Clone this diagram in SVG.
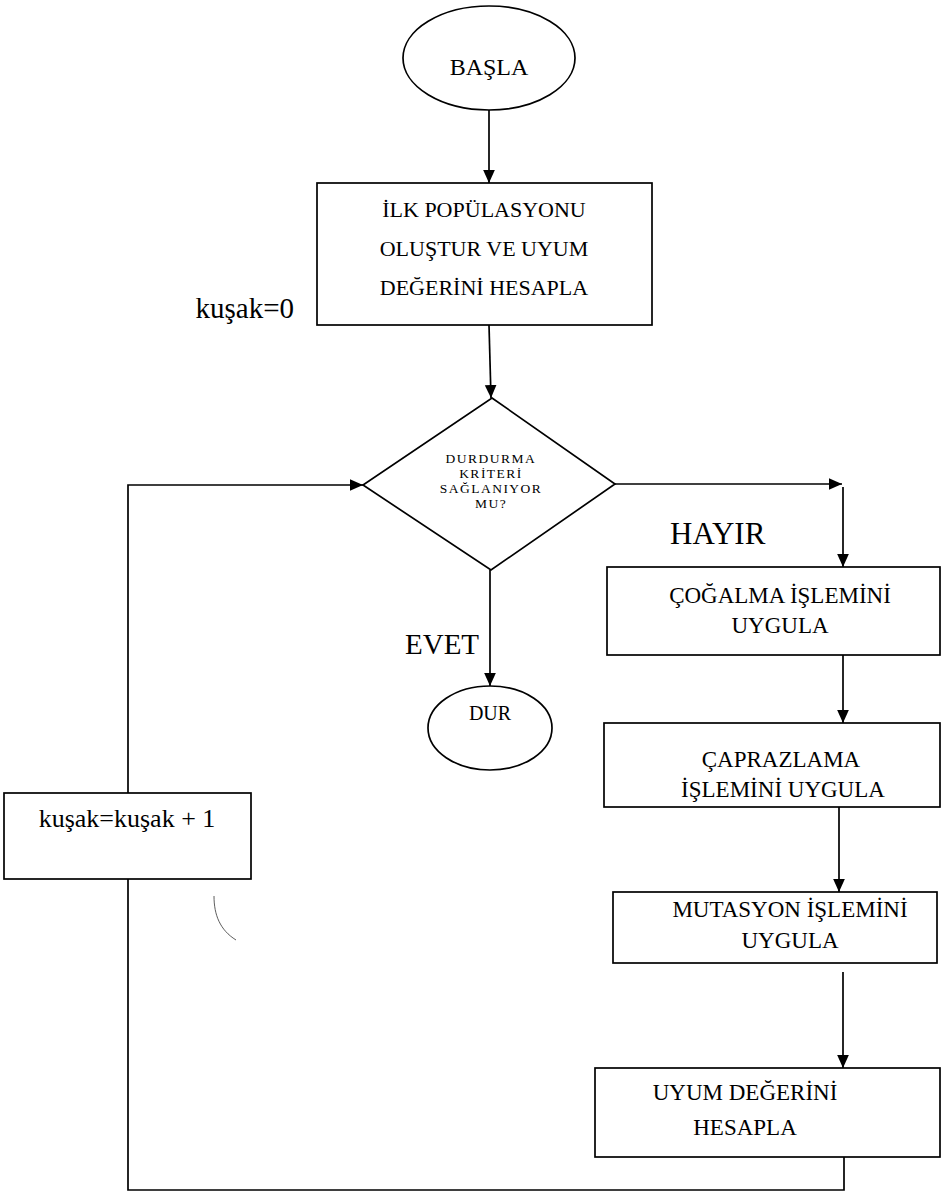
<svg xmlns="http://www.w3.org/2000/svg" width="944" height="1201" viewBox="0 0 944 1201">
<defs>
<marker id="ah" viewBox="0 0 10 10" refX="10" refY="5" markerWidth="13" markerHeight="13" markerUnits="userSpaceOnUse" orient="auto">
<path d="M0,0.5 L10,5 L0,9.5 z" fill="#000"/>
</marker>
<style>
.shape{fill:#fff;stroke:#000;stroke-width:1.7}
.conn{fill:none;stroke:#000;stroke-width:1.7}
.t{font-family:"Liberation Serif","Times New Roman",serif;fill:#000;text-anchor:middle}
.lbl{font-family:"Liberation Serif","Times New Roman",serif;fill:#000}
.d{font-size:13.5px;letter-spacing:1.5px}
.p{font-size:23px}
</style>
</defs>
<rect width="944" height="1201" fill="#fff"/>
<g id="connectors">
<line class="conn" x1="489" y1="110" x2="489" y2="183" marker-end="url(#ah)"/>
<line class="conn" x1="489" y1="325" x2="491" y2="398" marker-end="url(#ah)"/>
<line class="conn" x1="615" y1="484" x2="842" y2="484" marker-end="url(#ah)"/>
<line class="conn" x1="843" y1="487" x2="843" y2="567" marker-end="url(#ah)"/>
<line class="conn" x1="490" y1="570" x2="490" y2="686" marker-end="url(#ah)"/>
<line class="conn" x1="843" y1="655" x2="843" y2="723" marker-end="url(#ah)"/>
<line class="conn" x1="839" y1="807" x2="839" y2="892" marker-end="url(#ah)"/>
<line class="conn" x1="843" y1="972" x2="843" y2="1068" marker-end="url(#ah)"/>
<polyline class="conn" points="844,1157 844,1190 128,1190 128,485 363,485" marker-end="url(#ah)"/>
<path d="M214,896 C214,915 220,930 236,940" fill="none" stroke="#333" stroke-width="0.8"/>
</g>
<g id="start">
<ellipse class="shape" cx="489" cy="58" rx="86" ry="52"/>
<text class="t" x="489" y="75" font-size="24">BAŞLA</text>
</g>
<g id="init">
<rect class="shape" x="317" y="183" width="335" height="142"/>
<text class="t" x="484" y="217" font-size="22">İLK POPÜLASYONU</text>
<text class="t" x="484" y="256" font-size="22">OLUŞTUR VE UYUM</text>
<text class="t" x="484" y="295" font-size="22">DEĞERİNİ HESAPLA</text>
</g>
<text class="lbl" x="294" y="318" font-size="29" text-anchor="end">kuşak=0</text>
<g id="decision">
<polygon class="shape" points="492,398 615,484 491,570 363,485"/>
<text class="t d" x="491" y="463">DURDURMA</text>
<text class="t d" x="491" y="478">KRİTERİ</text>
<text class="t d" x="491" y="493">SAĞLANIYOR</text>
<text class="t d" x="491" y="508">MU?</text>
</g>
<text class="lbl" x="670" y="544" font-size="31">HAYIR</text>
<text class="lbl" x="405" y="654" font-size="29">EVET</text>
<g id="stop">
<ellipse class="shape" cx="490" cy="728" rx="62" ry="42"/>
<text class="t" x="490" y="720" font-size="20">DUR</text>
</g>
<g id="reproduce">
<rect class="shape" x="607" y="567" width="333" height="88"/>
<text class="t p" x="780" y="603">ÇOĞALMA İŞLEMİNİ</text>
<text class="t p" x="780" y="633">UYGULA</text>
</g>
<g id="crossover">
<rect class="shape" x="604" y="723" width="336" height="84"/>
<text class="t p" x="781" y="767">ÇAPRAZLAMA</text>
<text class="t p" x="783" y="797">İŞLEMİNİ UYGULA</text>
</g>
<g id="mutation">
<rect class="shape" x="613" y="892" width="324" height="71"/>
<text class="t p" x="790" y="917">MUTASYON İŞLEMİNİ</text>
<text class="t p" x="790" y="948">UYGULA</text>
</g>
<g id="fitness">
<rect class="shape" x="595" y="1068" width="345" height="89"/>
<text class="t p" x="745" y="1100">UYUM DEĞERİNİ</text>
<text class="t p" x="745" y="1135">HESAPLA</text>
</g>
<g id="increment">
<rect class="shape" x="4" y="793" width="247" height="86"/>
<text class="t" x="127" y="827" font-size="26">kuşak=kuşak + 1</text>
</g>
</svg>
